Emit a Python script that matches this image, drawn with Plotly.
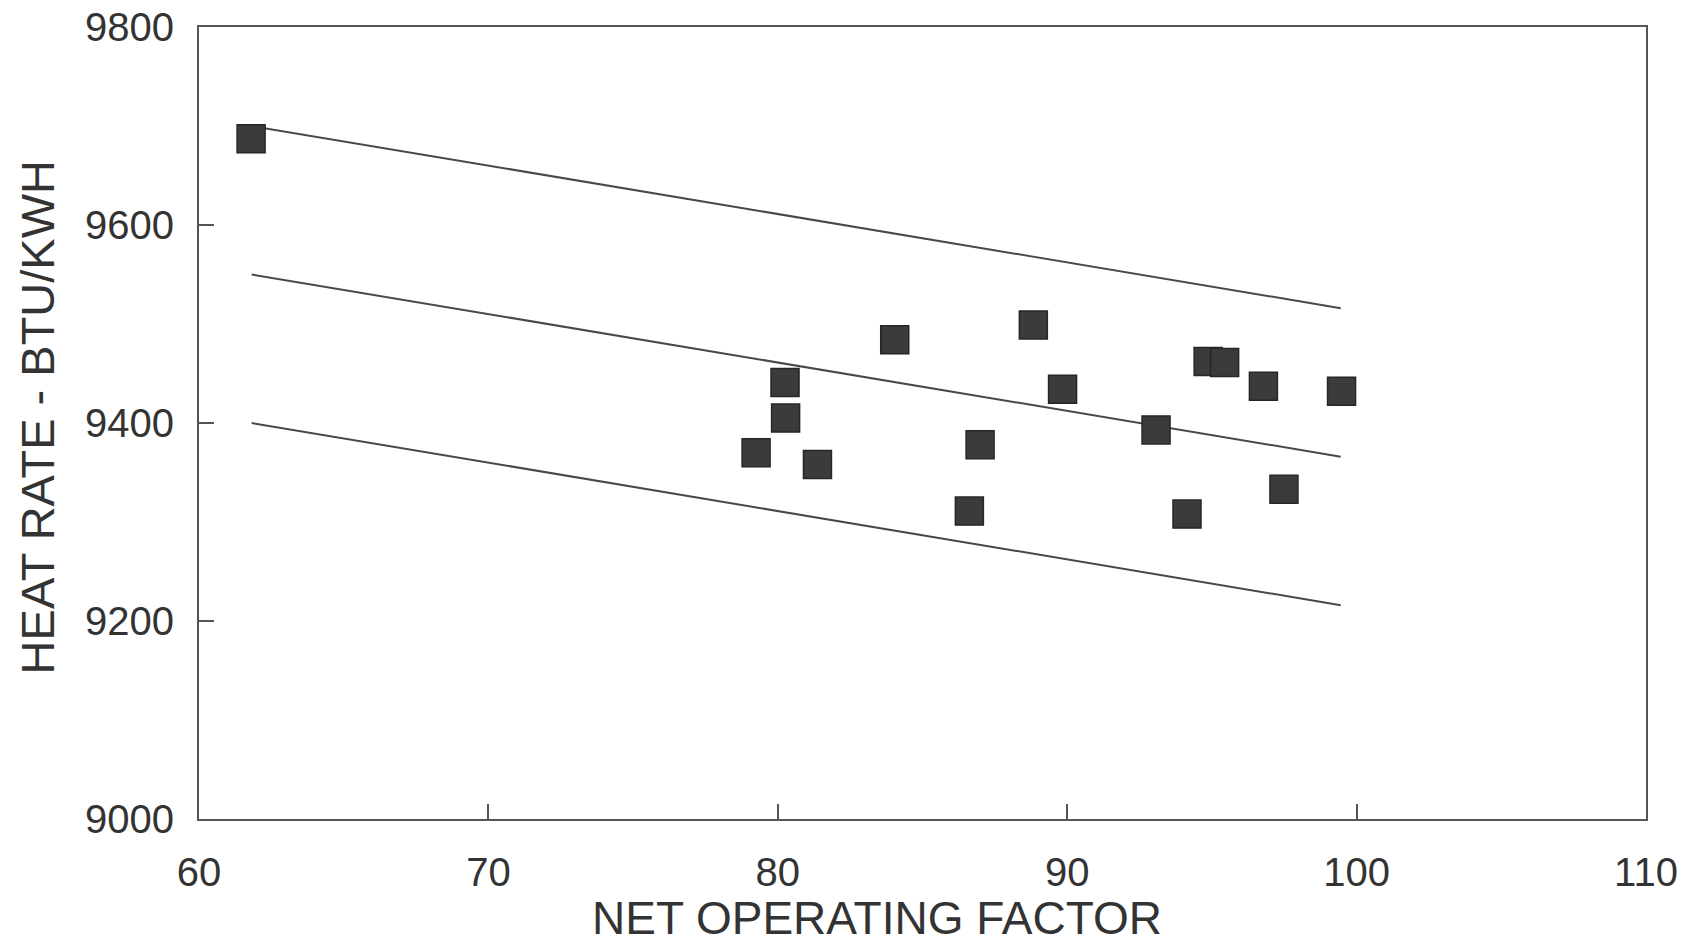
import plotly.graph_objects as go

# Data
net_operating_factor = [61.8, 79.25, 80.25, 80.27, 81.37, 84.04, 86.62, 86.99,
                        88.83, 89.84, 93.07, 94.14, 94.87, 95.44, 96.78, 97.49, 99.48]
heat_rate = [9687, 9370, 9441, 9405, 9358, 9484, 9311, 9378,
             9499, 9434, 9393, 9308, 9462, 9461, 9437, 9333, 9432]

line_x = [61.82, 99.45]
upper_line = [9700, 9516]
middle_line = [9550, 9366]
lower_line = [9400, 9216]

x_ticks = [60, 70, 80, 90, 100, 110]
y_ticks = [9000, 9200, 9400, 9600, 9800]

FONT = "Liberation Sans, Arial, sans-serif"
LINE_COLOR = "#484848"

fig = go.Figure()
for ys in (upper_line, middle_line, lower_line):
    fig.add_trace(go.Scatter(x=line_x, y=ys, mode="lines",
                             line=dict(color=LINE_COLOR, width=2),
                             showlegend=False, hoverinfo="skip"))

fig.add_trace(go.Scatter(x=net_operating_factor, y=heat_rate, mode="markers",
                         marker=dict(symbol="square", size=28, color="#3b3b3b",
                                     line=dict(color="#262626", width=1.5)),
                         showlegend=False))

axis_common = dict(showgrid=False, zeroline=False, showline=True, automargin=False,
                   linecolor="#555555", linewidth=1.8, mirror=True,
                   ticks="inside", ticklen=15, tickwidth=1.5, tickcolor="#555555",
                   tickfont=dict(family=FONT, size=40, color="#333333"))

fig.update_xaxes(range=[60, 110], tickvals=x_ticks, ticktext=[str(v) for v in x_ticks],
                 ticklabelstandoff=17, **axis_common)
fig.update_yaxes(range=[9000, 9800], tickvals=y_ticks, ticktext=[str(v) for v in y_ticks],
                 ticklabelstandoff=15, **axis_common)

fig.add_annotation(text="NET OPERATING FACTOR", xref="paper", yref="paper",
                   x=0.4685, y=-0.1605, xanchor="center", yanchor="bottom",
                   showarrow=False, font=dict(family=FONT, size=46, color="#333333"))
fig.add_annotation(text="HEAT RATE - BTU/KWH", xref="paper", yref="paper",
                   x=-0.1113, y=0.507, xanchor="center", yanchor="middle", textangle=-90,
                   showarrow=False, font=dict(family=FONT, size=47, color="#333333"))

fig.update_layout(width=1697, height=948,
                  margin=dict(l=199, r=51, t=27, b=129, autoexpand=False),
                  paper_bgcolor="white", plot_bgcolor="white")

fig.write_html("out.html", config={"displayModeBar": False},
               post_script="document.body.style.margin='0';document.body.style.overflow='hidden';")
